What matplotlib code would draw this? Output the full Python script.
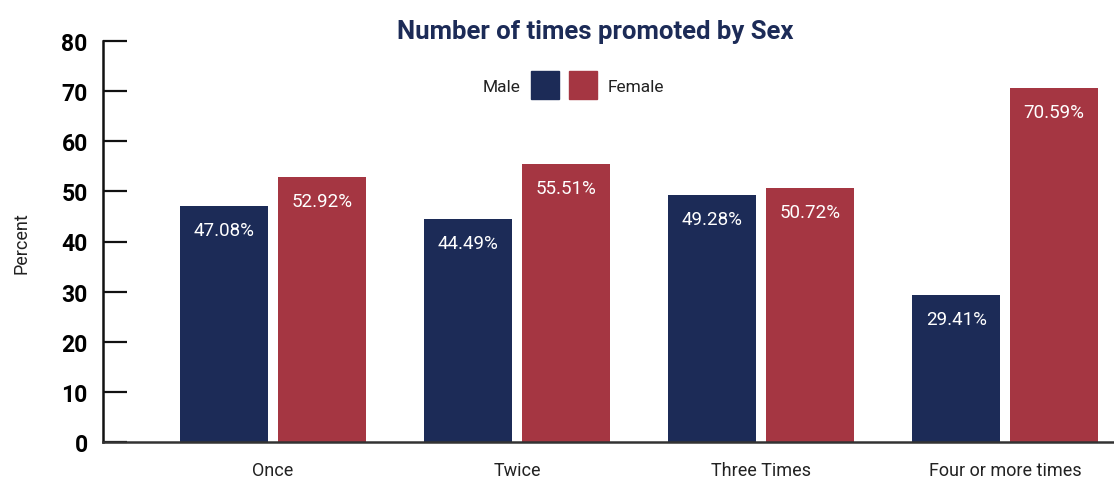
import matplotlib
matplotlib.use("Agg")
import matplotlib.pyplot as plt
from matplotlib.patches import Rectangle
import numpy as np

categories = ["Once", "Twice", "Three Times", "Four or more times"]
male = [47.08, 44.49, 49.28, 29.41]
female = [52.92, 55.51, 50.72, 70.59]
yticks = [0, 10, 20, 30, 40, 50, 60, 70, 80]

NAVY = "#1C2B57"
RED = "#A53642"
FONT = ["Roboto", "DejaVu Sans"]
plt.rcParams["font.family"] = FONT

W, H = 1114, 481
fig = plt.figure(figsize=(W / 100, H / 100), dpi=100)
ax = fig.add_axes([103 / W, (H - 443) / H, (W - 103) / W, (443 - 42) / H])

x = np.arange(len(categories))
bw = 0.36
off = 0.2
ax.bar(x - off, male, bw, color=NAVY, zorder=2)
ax.bar(x + off, female, bw, color=RED, zorder=2)

for xi, v in zip(x - off, male):
    ax.annotate(f"{v:.2f}%", (xi, v), xytext=(0, -11), textcoords="offset points",
                ha="center", va="top", color="white", fontsize=13.5)
for xi, v in zip(x + off, female):
    ax.annotate(f"{v:.2f}%", (xi, v), xytext=(0, -11), textcoords="offset points",
                ha="center", va="top", color="white", fontsize=13.5)

ax.set_xlim(-0.697, 3.447)
ax.set_ylim(0, 80)
ax.set_yticks(yticks)
ax.set_yticklabels([str(t) for t in yticks], fontsize=16.5, fontweight="bold")
ax.tick_params(axis="y", direction="in", length=17, width=1.6, pad=11, color="#111111")
ax.set_xticks(x)
ax.set_xticklabels(categories, fontsize=13, color="#222222")
ax.tick_params(axis="x", length=0, pad=14)

for s in ["top", "right"]:
    ax.spines[s].set_visible(False)
ax.spines["left"].set_linewidth(1.8)
ax.spines["left"].set_color("#111111")
ax.spines["bottom"].set_linewidth(1.8)
ax.spines["bottom"].set_color("#333333")

fig.text(22 / W, 1 - 243 / H, "Percent", rotation=90, ha="center", va="center",
         fontsize=13, color="#222222")
fig.text(595 / W, 1 - 32 / H, "Number of times promoted by Sex", ha="center", va="center",
         fontsize=18.5, fontweight="bold", color=NAVY)

# legend
fig.text(520 / W, 1 - 88 / H, "Male", ha="right", va="center", fontsize=12.5, color="#222222")
fig.add_artist(Rectangle((531 / W, 1 - 100 / H), 28 / W, 28 / H, transform=fig.transFigure,
                         color=NAVY))
fig.add_artist(Rectangle((569 / W, 1 - 100 / H), 28 / W, 28 / H, transform=fig.transFigure,
                         color=RED))
fig.text(608 / W, 1 - 88 / H, "Female", ha="left", va="center", fontsize=12.5, color="#222222")

fig.savefig("out.png", dpi=100)
